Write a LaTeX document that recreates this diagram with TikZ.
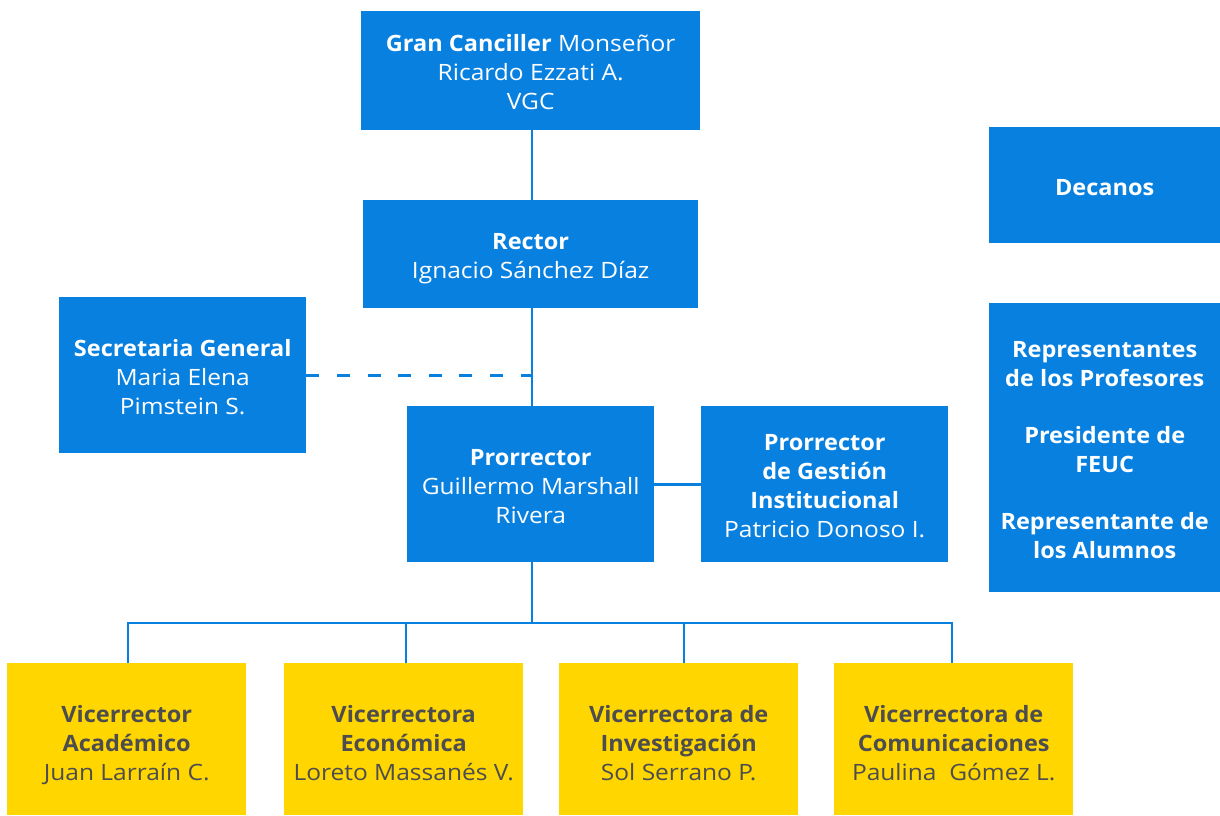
\documentclass[tikz,border=0pt]{standalone}
\usepackage{fontspec}
\setmainfont{Open Sans}[FakeStretch=1.09,BoldFeatures={FakeStretch=1.045}]
\definecolor{ucblue}{HTML}{0880E0}
\definecolor{ucyellow}{HTML}{FFD600}
\definecolor{ucgray}{HTML}{4D4D4F}
\newcommand\tb{\rule{0pt}{26pt}}
\newcommand\ty{\rule{0pt}{30pt}}
\newcommand\bb{\rule[-6pt]{0pt}{6pt}}
\begin{document}
\begin{tikzpicture}[x=1pt,y=-1pt,
  bluebox/.style={fill=ucblue,text=white,inner sep=0pt,align=center,anchor=north west,
    font=\fontsize{22.5}{29}\selectfont},
  yellowbox/.style={fill=ucyellow,text=ucgray,inner sep=0pt,align=center,anchor=north west,
    font=\fontsize{22.5}{29}\selectfont,minimum width=239pt,minimum height=152pt},
  conn/.style={draw=ucblue,line width=2.6pt}]
\useasboundingbox (0,0) rectangle (1220,815);
\node[bluebox,minimum width=339pt,minimum height=119pt] (gc) at (361,11)
  {\tb\textbf{Gran Canciller} Monseñor\\Ricardo Ezzati A.\\VGC\bb};
\node[bluebox,minimum width=335pt,minimum height=108pt] (rec) at (363,200)
  {\tb\textbf{Rector}\\Ignacio Sánchez Díaz\bb};
\node[bluebox,minimum width=247pt,minimum height=156pt] (sec) at (59,297)
  {\tb\textbf{Secretaria General}\\Maria Elena\\Pimstein S.\bb};
\node[bluebox,minimum width=247pt,minimum height=156pt] (pro) at (407,406)
  {\tb\textbf{Prorrector}\\Guillermo Marshall\\Rivera\bb};
\node[bluebox,minimum width=247pt,minimum height=156pt] (pg) at (701,406)
  {\tb\textbf{Prorrector}\\\textbf{de Gestión}\\\textbf{Institucional}\\Patricio Donoso I.\bb};
\node[bluebox,minimum width=231pt,minimum height=116pt] (dec) at (989,127)
  {\tb\textbf{Decanos}\bb};
\node[bluebox,minimum width=231pt,minimum height=289pt] (rep) at (989,303)
  {\tb\textbf{Representantes}\\\textbf{de los Profesores}\\[28pt]\textbf{Presidente de}\\\textbf{FEUC}\\[28pt]\textbf{Representante de}\\\textbf{los Alumnos}\bb};
\node[yellowbox] (v1) at (7,663) {\ty\textbf{Vicerrector}\\\textbf{Académico}\\Juan Larraín C.\bb};
\node[yellowbox] (v2) at (284,663) {\ty\textbf{Vicerrectora}\\\textbf{Económica}\\Loreto Massanés V.\bb};
\node[yellowbox] (v3) at (559,663) {\ty\textbf{Vicerrectora de}\\\textbf{Investigación}\\Sol Serrano P.\bb};
\node[yellowbox] (v4) at (834,663) {\ty\textbf{Vicerrectora de}\\\textbf{Comunicaciones}\\Paulina\ \ Gómez L.\bb};
% connectors
\draw[conn] (gc.south -| 532,0) -- (rec.north -| 532,0);
\draw[conn] (rec.south -| 532,0) -- (pro.north -| 532,0);
\draw[conn,dash pattern=on 13pt off 17.6pt] (sec.east) -- (sec.east -| 532,0);
\draw[conn] (pro.east) -- (pg.west);
\coordinate (bus) at (532,623);
\draw[conn] (pro.south -| bus) -- (bus);
\draw[conn] (v1.north -| 128,0) |- (bus) -| (v4.north -| 952,0);
\draw[conn] (v2.north -| 406,0) -- (406,623);
\draw[conn] (v3.north -| 684,0) -- (684,623);
\end{tikzpicture}
\end{document}
